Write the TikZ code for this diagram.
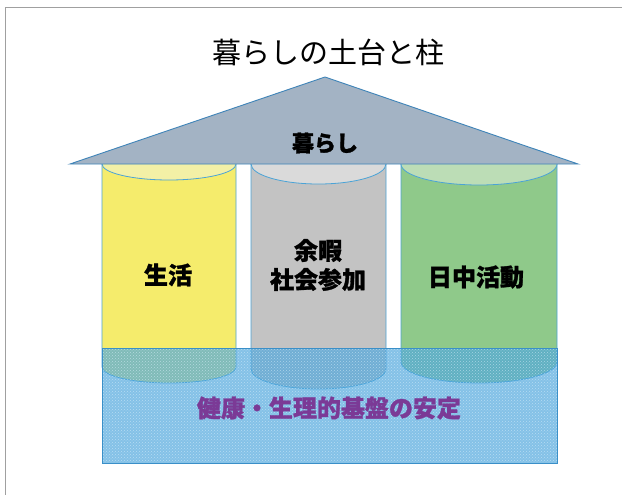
\documentclass[tikz,border=0pt]{standalone}
\usepackage{fontspec}
\setmainfont{Noto Sans CJK JP}
\newfontfamily\heavy[BoldFeatures={FakeBold=1.2}]{Noto Sans CJK JP}
\usetikzlibrary{patterns}
\definecolor{roofc}{HTML}{A3B3C4}
\definecolor{roofline}{HTML}{3F84B8}
\definecolor{pline}{HTML}{4BA3D6}
\definecolor{yel}{HTML}{F5EC6C}
\definecolor{yeltop}{HTML}{F3F0A6}
\definecolor{gry}{HTML}{C3C3C3}
\definecolor{grytop}{HTML}{DADADA}
\definecolor{grn}{HTML}{8FC98A}
\definecolor{grntop}{HTML}{BCDDB6}
\definecolor{fbase}{HTML}{4AA5DD}
\definecolor{fdot}{HTML}{D8EEFA}
\definecolor{fline}{HTML}{3A8FC8}
\definecolor{purp}{HTML}{7B3A96}
\definecolor{frame}{HTML}{A0A0A0}
\tikzset{
  pillarbody/.style={draw=pline, line width=0.8pt},
  pillartext/.style={font=\fontsize{24}{29}\selectfont\heavy\bfseries, text=black, align=center, inner sep=0pt},
  titletext/.style={font=\fontsize{29}{34}\selectfont, inner sep=0pt},
  rooftext/.style={font=\fontsize{22}{26}\selectfont\heavy\bfseries, inner sep=0pt},
  foundtext/.style={font=\fontsize{24}{28}\selectfont\heavy\bfseries, text=purp, inner sep=0pt}
}
\begin{document}
\begin{tikzpicture}[x=1pt,y=-1pt]
\useasboundingbox (0,0) rectangle (622,495);
\fill[white] (0,0) rectangle (622,495);
\draw[frame, line width=1pt] (5,495) -- (5,8) -- (622,8);
% pillars
\path[pillarbody, fill=yel] (102,164) -- (102,367) arc[start angle=180, end angle=360, x radius=67pt, y radius=16pt] -- (236,164) -- cycle;
\path[pillarbody, fill=yeltop] (169,164) ellipse [x radius=67pt, y radius=16pt];
\path[pillarbody, fill=gry] (251,164) -- (251,369) arc[start angle=180, end angle=360, x radius=67.5pt, y radius=20pt] -- (386,164) -- cycle;
\path[pillarbody, fill=grytop] (318.5,164) ellipse [x radius=67.5pt, y radius=20pt];
\path[pillarbody, fill=grn] (401,164) -- (401,362) arc[start angle=180, end angle=360, x radius=78pt, y radius=21pt] -- (557,164) -- cycle;
\path[pillarbody, fill=grntop] (479,164) ellipse [x radius=78pt, y radius=21pt];
% roof
\coordinate (roofL) at (70,164);
\coordinate (roofT) at (325,77);
\coordinate (roofR) at (578,164);
\path[draw=roofline, fill=roofc, line width=0.9pt] (roofL) -- (roofT) -- (roofR) -- cycle;
% foundation
\fill[fbase, opacity=0.68] (102,348) rectangle (557,463);
\fill[pattern=crosshatch dots, pattern color=fdot, fill opacity=0.6] (102,348) rectangle (557,463);
\draw[fline, line width=1pt] (102,348) rectangle (557,463);
% texts
\node[titletext] (title) at (328,52) {暮らしの土台と柱};
\node[rooftext] (kurashi) at (325,143) {暮らし};
\node[pillartext] (seikatsu) at (168,275) {生活};
\node[pillartext] (yoka) at (318,265) {余暇\\社会参加};
\node[pillartext] (nicchu) at (476,277) {日中活動};
\node[foundtext] (kiban) at (329,408) {健康・生理的基盤の安定};
\end{tikzpicture}
\end{document}
